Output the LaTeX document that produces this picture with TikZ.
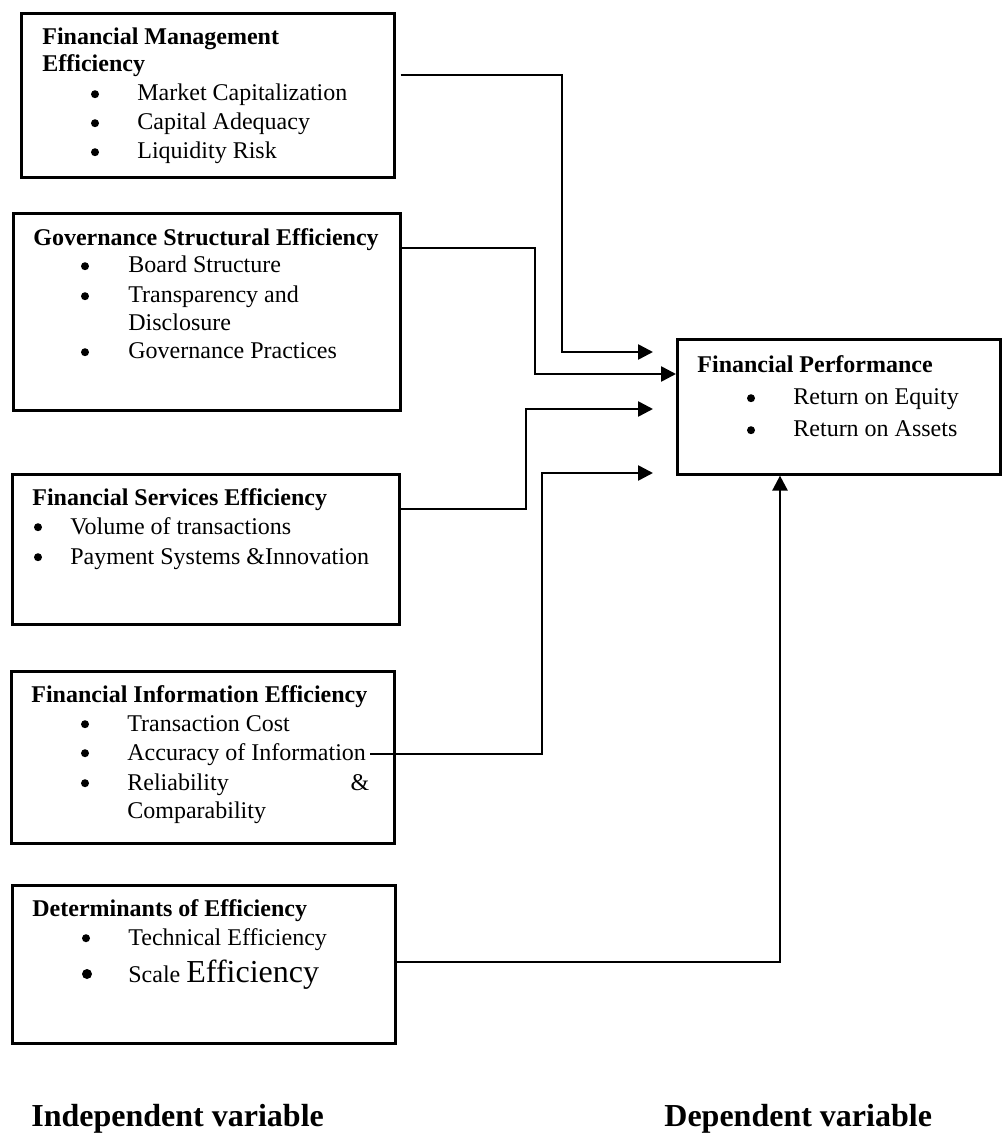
\documentclass[tikz,border=0pt]{standalone}
\usepackage{fontspec}
\setmainfont{Liberation Serif}
\usetikzlibrary{arrows.meta}
\begin{document}
\begin{tikzpicture}
	[x=0.5pt,y=-0.5pt,
		boxDecorate/.style={draw,line width=1.3pt,inner sep=0pt,anchor=north west},
		lineDecorate/.style={line width=1.3pt,-{Triangle[length=7.5pt,width=7.5pt]}},
		textDecorate/.style={inner sep=0pt,anchor=base west,font=\fontsize{12}{14}\selectfont},
		titleDecorate/.style={textDecorate,font=\bfseries\fontsize{12}{14}\selectfont},
		dotDecorate/.style={shape=circle,fill,inner sep=0pt,minimum size=4pt,yshift=3.4pt}]
	\useasboundingbox (0,0) rectangle (1002,1133);
	\foreach \boxname/\x/\y/\w/\h in {
			fme/20/12/373/164, gse/12/212/387/197, fse/11/473/387/150,
			fie/10/670/383/172, doe/11/884/383/158, fp/676/338/323/135}
		{
			\node (\boxname) at (\x,\y) [boxDecorate,minimum width=\w*0.5pt,minimum height=\h*0.5pt] {};
		}
	% titles
	\foreach \nodename/\x/\y/\txt in {
			fmeA/42/45/Financial Management, fmeB/42/72/Efficiency,
			gseT/33/246/Governance Structural Efficiency,
			fseT/32/505/Financial Services Efficiency,
			fieT/31/702/Financial Information Efficiency,
			doeT/32/916/Determinants of Efficiency,
			fpT/697/372/Financial Performance}
		{
			\node (\nodename) at (\x,\y) [titleDecorate] {\txt};
		}
	% bullet items
	\foreach \nodename/\dx/\x/\y/\txt in {
			mc/95/137/101/Market Capitalization, ca/95/137/130/Capital Adequacy, lr/95/137/159/Liquidity Risk,
			bs/85/128/273/Board Structure, td/85/128/303/Transparency and, gp/85/128/359/Governance Practices,
			vt/38/70/534/Volume of transactions, ps/38/70/564/Payment Systems \&Innovation,
			tc/85/127/731/Transaction Cost, acc/85/127/760/Accuracy of Information,
			rc/85/127/790/{\makebox[121pt][s]{Reliability \&}},
			te/86/128/945/Technical Efficiency,
			roe/751/793/405/Return on Equity, roa/751/793/437/Return on Assets}
		{
			\node (\nodename-dot) at (\dx,\y) [dotDecorate] {};
			\node (\nodename) at (\x,\y) [textDecorate] {\txt};
		}
	\node (dc) at (128,331) [textDecorate] {Disclosure};
	\node (cp) at (127,818) [textDecorate] {Comparability};
	\node (se-dot) at (87,982) [dotDecorate,minimum size=5pt,yshift=0.6pt] {};
	\node (se) at (128,982) [textDecorate] {Scale {\fontsize{16}{19}\selectfont Efficiency}};
	% variable labels
	\node (indep) at (31,1126) [textDecorate,font=\bfseries\fontsize{16}{19}\selectfont] {Independent variable};
	\node (dep) at (664,1126) [textDecorate,font=\bfseries\fontsize{16}{19}\selectfont] {Dependent variable};
	% connectors
	\coordinate (in1) at (653,352);
	\coordinate (in3) at (653,409);
	\coordinate (in4) at (653,473);
	\draw[lineDecorate] (fme.east |- 0,75) ++(5,0) -| (562,352) -- (in1);
	\draw[lineDecorate] (gse.east |- 0,248) -| (535,374) -- (fp.west |- 0,374);
	\draw[lineDecorate] (fse.east |- 0,509) -| (526,409) -- (in3);
	\draw[lineDecorate] (acc.east) ++(4,0) -| (542,473) -- (in4);
	\draw[lineDecorate] (doe.east |- 0,962) -| (fp.south -| 780,0);
\end{tikzpicture}
\end{document}
